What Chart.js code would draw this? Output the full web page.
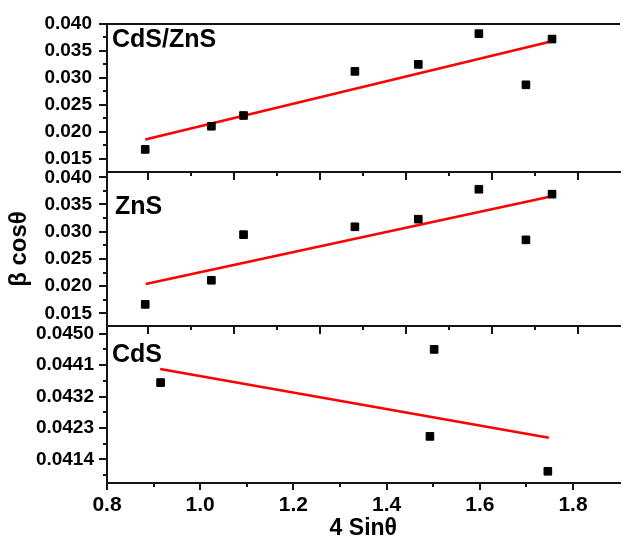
<!DOCTYPE html>
<html><head><meta charset="utf-8">
<script src="https://cdn.jsdelivr.net/npm/chart.js@4"></script>
<style>
html,body{margin:0;padding:0;background:#fff;overflow:hidden;}
#wrap{position:relative;width:625px;height:545px;overflow:hidden;background:#fff;}
canvas{position:absolute;left:0;}
</style></head><body>
<div id="wrap">
<canvas id="cTop" width="626" height="181" style="top:0px"></canvas>
<canvas id="cMid" width="626" height="175" style="top:160px"></canvas>
<canvas id="cBot" width="626" height="231" style="top:314px"></canvas>
</div>
<script>
// ---- data ----
const panelNames = ['CdS/ZnS', 'ZnS', 'CdS'];
const xTitle = '4 Sin\u03b8';
const yTitle = '\u03b2 cos\u03b8';

const xRange = [0.8, 1.9];
const xTickValues = [0.8, 1.0, 1.2, 1.4, 1.6, 1.8];
const xMinorTicks = [0.9, 1.1, 1.3, 1.5, 1.7];
// unlabeled x scale of the two upper panels
const upperXRange = [0.7034, 1.8966];
const upperXTicks = [0.8, 1.0, 1.2, 1.4, 1.6, 1.8];
const upperXMinor = [0.9, 1.1, 1.3, 1.5, 1.7];

const topYRange = [0.0125, 0.040];
const midYRange = [0.01267, 0.04097];
const botYRange = [0.040725, 0.04522];
const upperYTicks = [0.015, 0.020, 0.025, 0.030, 0.035, 0.040];
const upperYMinor = [0.0175, 0.0225, 0.0275, 0.0325, 0.0375];
const botYTicks = [0.0414, 0.0423, 0.0432, 0.0441, 0.0450];
const botYMinor = [0.04095, 0.04185, 0.04275, 0.04365, 0.04455];

const sinX = [0.882, 1.024, 1.093, 1.332, 1.468, 1.598, 1.699, 1.755];
const cdsznsBeta = [0.0167, 0.0210, 0.0230, 0.0312, 0.0325, 0.0382, 0.0287, 0.0372];
const cdsznsFitX = [0.882, 1.759];
const cdsznsFitY = [0.01854, 0.03689];

const znsBeta = [0.01665, 0.02107, 0.02945, 0.0309, 0.0323, 0.0378, 0.0285, 0.0369];
const znsFitX = [0.883, 1.757];
const znsFitY = [0.0204, 0.03656];

const cdsX = [0.915, 1.502, 1.493, 1.746];
const cdsBeta = [0.04360, 0.04455, 0.04206, 0.04106];
const cdsFitX = [0.914, 1.748];
const cdsFitY = [0.04399, 0.04202];

// ---- chart setup ----
Chart.defaults.font.family = '"Liberation Sans", Arial, sans-serif';
Chart.defaults.color = '#000';
const AXIS = '#151515';

const panelLabel = {
  id: 'panelLabel',
  afterDraw(chart, args, opts) {
    const {ctx, chartArea} = chart;
    ctx.save();
    ctx.font = 'bold 25px "Liberation Sans", Arial, sans-serif';
    ctx.fillStyle = '#000';
    ctx.textBaseline = 'alphabetic';
    ctx.textAlign = 'left';
    ctx.fillText(opts.text, chartArea.left + opts.dx, chartArea.top + opts.dy);
    ctx.restore();
  }
};

function tickSetter(vals) { return s => { s.ticks = vals.map(v => ({value: v})); }; }

function yScales(range, major, minor, decimals, pad, title) {
  return {
    y: {
      type: 'linear', axis: 'y', position: 'left', min: range[0], max: range[1],
      afterBuildTicks: tickSetter(major),
      afterFit: s => { s.width = 107; s.paddingTop = 0; s.paddingBottom = 0; },
      ticks: {callback: v => Number(v).toFixed(decimals), font: {size: 19, weight: 'bold'}, padding: pad, color: '#000', autoSkip: false},
      grid: {drawOnChartArea: false, drawTicks: true, tickLength: 8, lineWidth: 2, color: AXIS},
      border: {display: true, width: 2, color: AXIS},
      title: title || {display: false}
    },
    ym: {
      type: 'linear', axis: 'y', position: {x: xRange[0]}, min: range[0], max: range[1],
      afterBuildTicks: tickSetter(minor),
      ticks: {display: false},
      grid: {drawOnChartArea: false, drawTicks: true, tickLength: 4, lineWidth: 2, color: AXIS},
      border: {display: false}
    }
  };
}

function upperXScales(withTop, yMin) {
  const s = {
    x: {type: 'linear', axis: 'x', min: xRange[0], max: xRange[1], display: false},
    xt: {
      type: 'linear', axis: 'x', position: 'bottom', min: upperXRange[0], max: upperXRange[1],
      afterBuildTicks: tickSetter(upperXTicks),
      afterFit: sc => { sc.height = 9; sc.paddingLeft = 0; sc.paddingRight = 0; },
      ticks: {display: false},
      grid: {drawOnChartArea: false, drawTicks: true, tickLength: 8, lineWidth: 2, color: AXIS},
      border: {display: true, width: 2, color: AXIS}
    },
    xtm: {
      type: 'linear', axis: 'x', position: {y: yMin}, min: upperXRange[0], max: upperXRange[1],
      afterBuildTicks: tickSetter(upperXMinor),
      ticks: {display: false},
      grid: {drawOnChartArea: false, drawTicks: true, tickLength: 4, lineWidth: 2, color: AXIS},
      border: {display: false}
    }
  };
  if (withTop) {
    s.xTop = {
      type: 'linear', axis: 'x', position: 'top', min: xRange[0], max: xRange[1],
      afterFit: sc => { sc.height = 0; sc.paddingLeft = 0; sc.paddingRight = 0; },
      ticks: {display: false},
      grid: {display: true, drawOnChartArea: false, drawTicks: false},
      border: {display: true, width: 2, color: AXIS}
    };
  }
  return s;
}

function makeDatasets(xs, ys, fx, fy) {
  return [
    {
      data: xs.map((x, i) => ({x: x, y: ys[i]})),
      xAxisID: 'x', yAxisID: 'y', showLine: false,
      pointStyle: 'rect', pointRadius: 5.4, pointBackgroundColor: '#000',
      pointBorderColor: '#000', pointBorderWidth: 1
    },
    {
      data: fx.map((x, i) => ({x: x, y: fy[i]})),
      xAxisID: 'x', yAxisID: 'y', showLine: true,
      borderColor: '#ff0000', borderWidth: 2.6, pointRadius: 0, fill: false
    }
  ];
}

function baseOptions(padTop, label) {
  return {
    responsive: false, animation: false, events: [],
    layout: {padding: {top: padTop, left: 0, right: 0, bottom: 0}},
    plugins: {legend: {display: false}, tooltip: {enabled: false}, panelLabel: label}
  };
}

// top panel
const optTop = baseOptions(24, {text: panelNames[0], dx: 5, dy: 23});
optTop.scales = Object.assign({}, upperXScales(true, topYRange[0]),
  yScales(topYRange, upperYTicks, upperYMinor, 3, 7));
new Chart(document.getElementById('cTop'), {
  type: 'scatter',
  data: {datasets: makeDatasets(sinX, cdsznsBeta, cdsznsFitX, cdsznsFitY)},
  options: optTop, plugins: [panelLabel]
});

// middle panel
const optMid = baseOptions(12, {text: panelNames[1], dx: 8, dy: 42});
optMid.scales = Object.assign({}, upperXScales(false, midYRange[0]),
  yScales(midYRange, upperYTicks, upperYMinor, 3, 7,
    {display: true, text: yTitle, font: {size: 24, weight: 'bold'}, color: '#000', padding: {top: 5, bottom: 0}}));
new Chart(document.getElementById('cMid'), {
  type: 'scatter',
  data: {datasets: makeDatasets(sinX, znsBeta, znsFitX, znsFitY)},
  options: optMid, plugins: [panelLabel]
});

// bottom panel
const optBot = baseOptions(12, {text: panelNames[2], dx: 5, dy: 36});
optBot.scales = Object.assign({
  x: {
    type: 'linear', axis: 'x', position: 'bottom', min: xRange[0], max: xRange[1],
    afterBuildTicks: tickSetter(xTickValues),
    afterFit: sc => { sc.height = 62; sc.paddingLeft = 0; sc.paddingRight = 0; },
    ticks: {callback: v => Number(v).toFixed(1), font: {size: 21, weight: 'bold'}, padding: 3, color: '#000', maxRotation: 0, autoSkip: false},
    grid: {drawOnChartArea: false, drawTicks: true, tickLength: 7, lineWidth: 2, color: AXIS},
    border: {display: true, width: 2, color: AXIS},
    title: {display: true, text: xTitle, font: {size: 23, weight: 'bold'}, color: '#000', padding: {top: 0, bottom: 3}}
  },
  xm: {
    type: 'linear', axis: 'x', position: {y: botYRange[0]}, min: xRange[0], max: xRange[1],
    afterBuildTicks: tickSetter(xMinorTicks),
    ticks: {display: false},
    grid: {drawOnChartArea: false, drawTicks: true, tickLength: 4, lineWidth: 2, color: AXIS},
    border: {display: false}
  }
}, yScales(botYRange, botYTicks, botYMinor, 4, 5));
new Chart(document.getElementById('cBot'), {
  type: 'scatter',
  data: {datasets: makeDatasets(cdsX, cdsBeta, cdsFitX, cdsFitY)},
  options: optBot, plugins: [panelLabel]
});
</script>
</body></html>
